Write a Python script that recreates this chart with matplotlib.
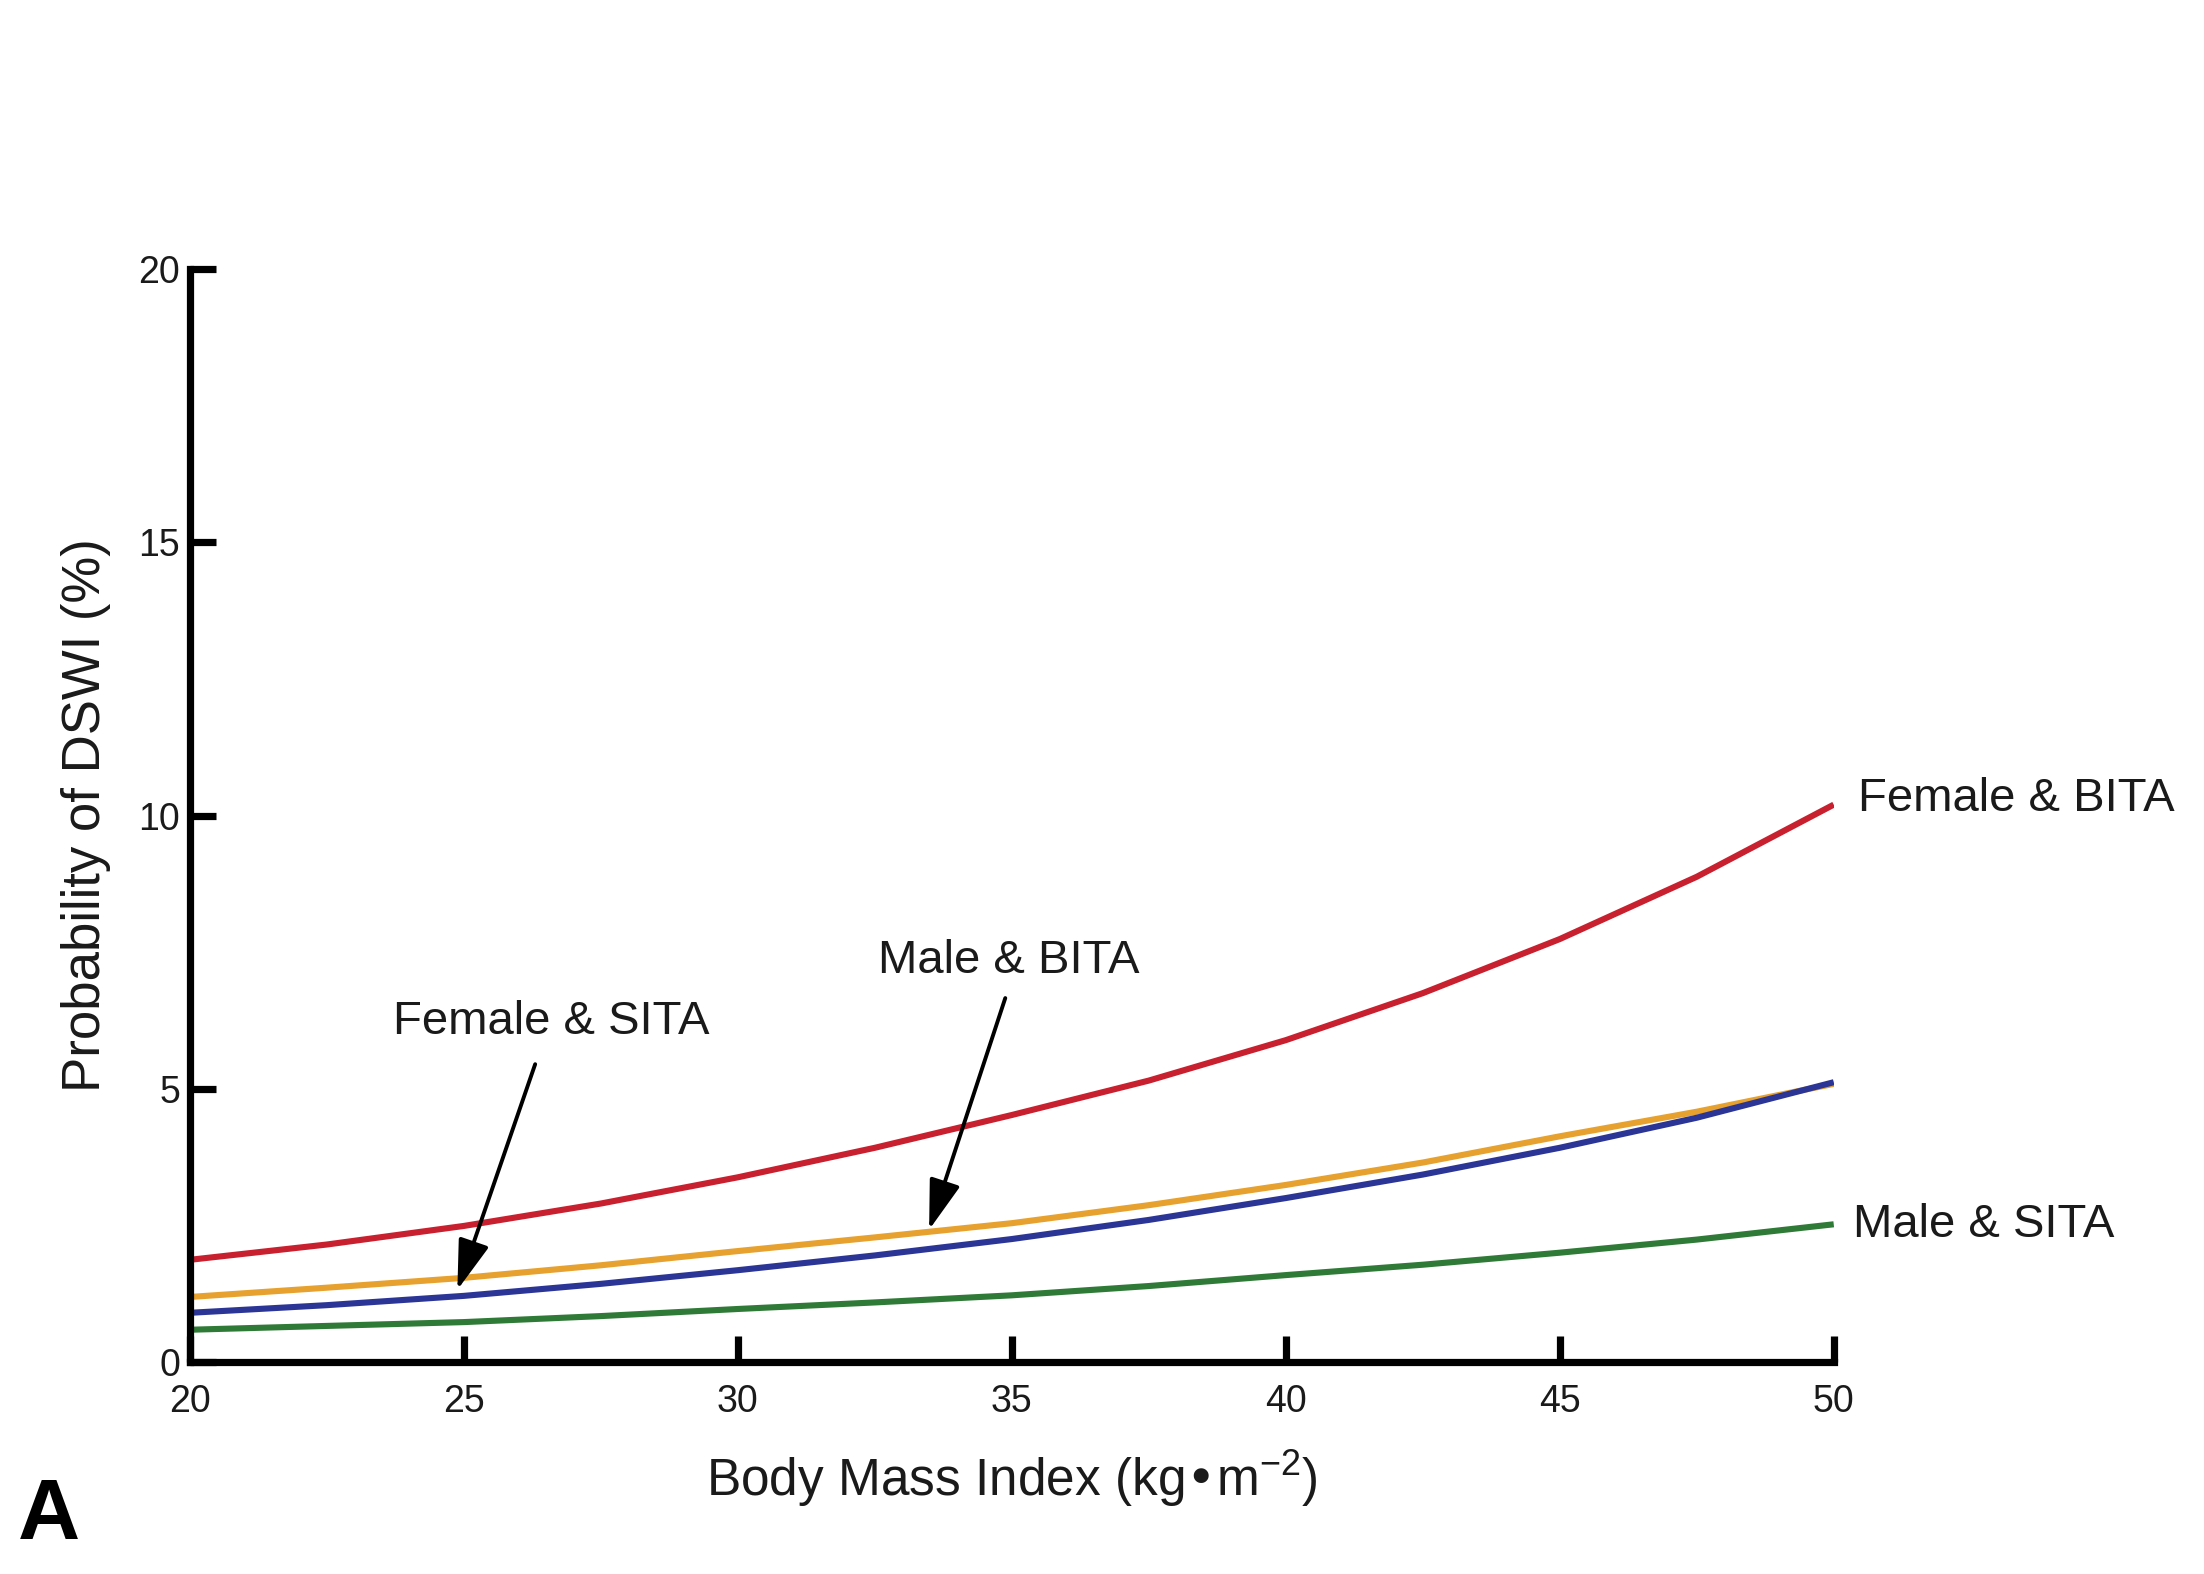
import matplotlib
matplotlib.use("Agg")
import matplotlib.pyplot as plt

plt.rcParams['font.family'] = ['Liberation Sans', 'DejaVu Sans']
plt.rcParams['mathtext.default'] = 'regular'

# Body mass index (kg/m^2) at which the model probabilities are read
bmi = [20, 22.5, 25, 27.5, 30, 32.5, 35, 37.5, 40, 42.5, 45, 47.5, 50]

# Predicted probability of DSWI (%) for each sex / grafting strategy
female_bita = [1.87, 2.15, 2.49, 2.90, 3.38, 3.92, 4.52, 5.15, 5.89,
               6.75, 7.74, 8.88, 10.2]
male_bita = [1.19, 1.36, 1.54, 1.77, 2.03, 2.28, 2.54, 2.87, 3.24,
             3.65, 4.13, 4.58, 5.09]
female_sita = [0.90, 1.04, 1.21, 1.43, 1.68, 1.95, 2.25, 2.60, 3.00,
               3.43, 3.92, 4.47, 5.12]
male_sita = [0.59, 0.66, 0.73, 0.84, 0.97, 1.09, 1.22, 1.39, 1.59,
             1.78, 2.00, 2.24, 2.52]

x_ticks = [20, 25, 30, 35, 40, 45, 50]
y_ticks = [0, 5, 10, 15, 20]

text_color = '#1a1a1a'

fig = plt.figure(figsize=(11.02, 7.87), dpi=200)
ax = fig.add_axes([0.0862, 0.1347, 0.7458, 0.6943])

line_kw = dict(lw=2.2, solid_capstyle='butt', solid_joinstyle='round')
ax.plot(bmi, female_bita, color='#c8202e', **line_kw)
ax.plot(bmi, male_bita, color='#e6a12e', **line_kw)
ax.plot(bmi, female_sita, color='#2b3596', **line_kw)
ax.plot(bmi, male_sita, color='#2f7a36', **line_kw)

ax.set_xlim(20, 50)
ax.set_ylim(0, 20)
ax.set_xticks(x_ticks)
ax.set_yticks(y_ticks)

for side in ('top', 'right'):
    ax.spines[side].set_visible(False)
for side in ('left', 'bottom'):
    ax.spines[side].set_linewidth(2.6)
    ax.spines[side].set_color('black')

ax.tick_params(axis='both', direction='in', length=9.5, width=2.6,
               labelsize=13.5, labelcolor=text_color)
ax.tick_params(axis='y', pad=3.5)
ax.tick_params(axis='x', pad=8)

ax.set_xlabel('Body Mass Index (kg•m$^{-2}$)', fontsize=18.5,
              color=text_color, labelpad=10)
ax.set_ylabel('Probability of DSWI (%)', fontsize=19, color=text_color,
              labelpad=10)

# Series labels at the right-hand ends of the curves
ax.text(50.45, 10.3, 'Female & BITA', fontsize=17, color=text_color,
        ha='left', va='center', clip_on=False)
ax.text(50.35, 2.5, 'Male & SITA', fontsize=17, color=text_color,
        ha='left', va='center', clip_on=False)

# Arrow callouts for the two middle curves
arrow_kw = dict(arrowstyle='-|>,head_length=0.7,head_width=0.22',
                color='black', lw=1.4, mutation_scale=22,
                shrinkA=0, shrinkB=0)
ax.text(26.6, 6.22, 'Female & SITA', fontsize=17, color=text_color,
        ha='center', va='center')
ax.annotate('', xy=(24.88, 1.32), xytext=(26.3, 5.45),
            arrowprops=arrow_kw)
ax.text(34.95, 7.34, 'Male & BITA', fontsize=17, color=text_color,
        ha='center', va='center')
ax.annotate('', xy=(33.49, 2.42), xytext=(34.88, 6.66),
            arrowprops=arrow_kw)

# Panel letter
fig.text(0.008, 0.022, 'A', fontsize=31, fontweight='bold', color='black',
         ha='left', va='baseline')

fig.savefig('out.png', dpi=200, facecolor='white')
